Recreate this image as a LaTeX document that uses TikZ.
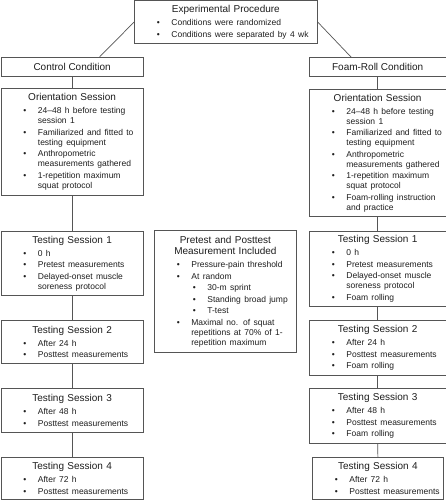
\documentclass[tikz,border=0pt]{standalone}
\usepackage{fontspec}
\setmainfont{Liberation Sans}
\definecolor{boxline}{HTML}{555555}
\definecolor{txt}{HTML}{1E1E1E}
\newcommand{\btitle}[1]{{\centering\fontsize{10}{11.7}\selectfont #1\par}\vspace{1.5pt}}
\newcommand{\bitem}[1]{\vspace{1.5pt}{\fontsize{8.5}{10}\selectfont\leftskip=37pt\rightskip=0pt plus 1fil\parfillskip=0pt plus 1fil\noindent\llap{\textbullet\hspace{11.5pt}}#1\par}}
\newcommand{\sitem}[1]{\vspace{1.5pt}{\fontsize{8.5}{10}\selectfont\leftskip=53pt\rightskip=0pt plus 1fil\parfillskip=0pt plus 1fil\noindent\llap{\textbullet\hspace{11.5pt}}#1\par}}
\tikzset{
  panel/.style={draw=boxline, line width=0.8pt, inner sep=0pt, anchor=north west,
    text=txt, execute at begin node={\parindent=0pt}},
  condbox/.style={draw=boxline, line width=0.8pt, inner sep=0pt, anchor=north west,
    text=txt, align=center, font=\fontsize{10}{12}\selectfont},
  link/.style={draw=boxline, line width=0.7pt}
}
\begin{document}
\begin{tikzpicture}[x=1pt,y=1pt]
\useasboundingbox (0,0) rectangle (446,-500);
\fill[white] (0,0) rectangle (446,-500);

% top
\node[panel, text width=183pt, minimum height=42.5pt] (top) at (134,-0.5)
  {\btitle{Experimental Procedure}\bitem{Conditions were randomized}\bitem{Conditions were separated by 4 wk}};

% conditions
\node[condbox, minimum width=142.5pt, minimum height=19pt] (ctrl) at (0.5,-57) {Control Condition};
\node[condbox, minimum width=136.5pt, minimum height=19pt] (foam) at (309,-57) {Foam-Roll Condition};

% left column
\node[panel, text width=142.5pt, minimum height=107pt] (lo) at (0.5,-88)
  {\btitle{Orientation Session}
   \bitem{24–48 h before testing\newline session 1}
   \bitem{Familiarized and fitted to\newline testing equipment}
   \bitem{Anthropometric\newline measurements gathered}
   \bitem{1-repetition maximum\newline squat protocol}};
\node[panel, text width=142.5pt, minimum height=64pt] (l1) at (0.5,-231)
  {\btitle{Testing Session 1}
   \bitem{0 h}
   \bitem{Pretest measurements}
   \bitem{Delayed-onset muscle\newline soreness protocol}};
\node[panel, text width=142.5pt, minimum height=43pt] (l2) at (0.5,-320)
  {\btitle{Testing Session 2}
   \bitem{After 24 h}
   \bitem{Posttest measurements}};
\node[panel, text width=142.5pt, minimum height=44pt] (l3) at (0.5,-388)
  {\btitle{Testing Session 3}
   \bitem{After 48 h}
   \bitem{Posttest measurements}};
\node[panel, text width=142.5pt, minimum height=42pt] (l4) at (0.5,-457)
  {\btitle{Testing Session 4}
   \bitem{After 72 h}
   \bitem{Posttest measurements}};

% right column
\node[panel, text width=136.5pt, minimum height=127pt] (ro) at (309,-89)
  {\btitle{Orientation Session}
   \bitem{24–48 h before testing\newline session 1}
   \bitem{Familiarized and fitted to\newline testing equipment}
   \bitem{Anthropometric\newline measurements gathered}
   \bitem{1-repetition maximum\newline squat protocol}
   \bitem{Foam-rolling instruction\newline and practice}};
\node[panel, text width=136.5pt, minimum height=75pt] (r1) at (309,-231)
  {\btitle{Testing Session 1}
   \bitem{0 h}
   \bitem{Pretest measurements}
   \bitem{Delayed-onset muscle\newline soreness protocol}
   \bitem{Foam rolling}};
\node[panel, text width=136.5pt, minimum height=55pt] (r2) at (309,-320)
  {\btitle{Testing Session 2}
   \bitem{After 24 h}
   \bitem{Posttest measurements}
   \bitem{Foam rolling}};
\node[panel, text width=136.5pt, minimum height=55pt] (r3) at (309,-388)
  {\btitle{Testing Session 3}
   \bitem{After 48 h}
   \bitem{Posttest measurements}
   \bitem{Foam rolling}};
\node[panel, text width=131pt, minimum height=42pt] (r4) at (312,-457)
  {\btitle{Testing Session 4}
   \bitem{After 72 h}
   \bitem{Posttest measurements}};

% middle
\node[panel, text width=142pt, minimum height=122pt] (mid) at (154,-230)
  {\btitle{Pretest and Posttest\par Measurement Included}
   \bitem{Pressure-pain threshold}
   \bitem{At random}
   \sitem{30-m sprint}
   \sitem{Standing broad jump}
   \sitem{T-test}
   \bitem{Maximal no. of squat\newline repetitions at 70\% of 1-\newline repetition maximum}};

% connectors
\draw[link] (top.west) -- ([xshift=99pt]ctrl.north west);
\draw[link] (top.east) -- ([xshift=42pt]foam.north west);
\draw[link] (ctrl.south) -- (lo.north);
\draw[link] (lo.south) -- (l1.north);
\draw[link] (l1.south) -- (l2.north);
\draw[link] (l2.south) -- (l3.north);
\draw[link] (l3.south) -- (l4.north);
\draw[link] (foam.south) -- (ro.north);
\draw[link] (ro.south) -- (r1.north);
\draw[link] (r1.south) -- (r2.north);
\draw[link] (r2.south) -- (r3.north);
\draw[link] (r3.south) -- (r4.north);
\end{tikzpicture}
\end{document}
